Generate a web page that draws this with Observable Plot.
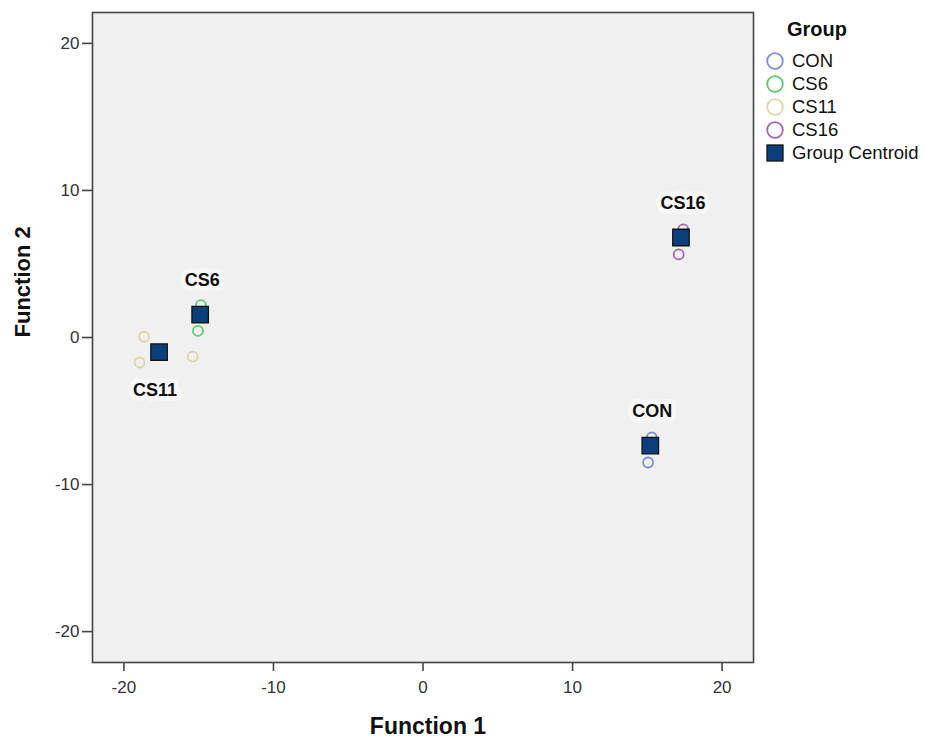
<!DOCTYPE html>
<html>
<head>
<meta charset="utf-8">
<script src="https://cdn.jsdelivr.net/npm/d3@7"></script>
<script src="https://cdn.jsdelivr.net/npm/@observablehq/plot@0.6"></script>
<style>
  body { margin: 0; background: #fff; font-family: "Liberation Sans", Arial, sans-serif; }
  #wrap { position: relative; width: 925px; height: 745px; }
  #legend { position: absolute; left: 765px; top: 17px; font-size: 18.5px; color: #111; }
  #legend .title { font-weight: bold; font-size: 20px; margin-left: 22px; margin-bottom: 9px; line-height: 24px; }
  #legend .item { display: flex; align-items: center; height: 22.8px; }
  #legend svg { margin-right: 5px; }
</style>
</head>
<body>
<div id="wrap">
  <div id="chart"></div>
  <div id="legend"></div>
</div>
<script>
// Discriminant function scores per case
const groups = ["CON", "CS6", "CS11", "CS16"];
const colors = ["#7d8ed6", "#5dcb6b", "#dcd6a6", "#a763b4"];

const caseGroup = ["CON", "CON", "CS6", "CS6", "CS11", "CS11", "CS11", "CS16", "CS16"];
const caseF1 = [15.3, 15.05, -14.85, -15.05, -18.65, -18.95, -15.4, 17.4, 17.1];
const caseF2 = [-6.8, -8.5, 2.2, 0.45, 0.05, -1.7, -1.3, 7.35, 5.65];

// Group centroids
const centroidGroup = ["CON", "CS6", "CS11", "CS16"];
const centroidF1 = [15.2, -14.9, -17.65, 17.25];
const centroidF2 = [-7.35, 1.55, -1.0, 6.8];

const xTicks = [-20, -10, 0, 10, 20];
const yTicks = [-20, -10, 0, 10, 20];

const cases = caseGroup.map((g, i) => ({group: g, f1: caseF1[i], f2: caseF2[i]}));
const centroids = centroidGroup.map((g, i) => ({group: g, f1: centroidF1[i], f2: centroidF2[i]}));
// Labels sit above each centroid, except CS11 which sits below
const labelsAbove = centroids.filter(d => d.group !== "CS11");
const labelsBelow = centroids.filter(d => d.group === "CS11");

const textStyle = {fontSize: 18, fontWeight: "bold", fill: "#111", stroke: "#f7f7f7", strokeWidth: 10, strokeLinejoin: "round"};

const chart = Plot.plot({
  width: 925,
  height: 745,
  marginLeft: 92,
  marginRight: 172,
  marginTop: 12,
  marginBottom: 83,
  style: {fontFamily: "'Liberation Sans', Arial, sans-serif", background: "transparent"},
  x: {domain: [-22.1, 22.1], ticks: xTicks},
  y: {domain: [-22.1, 22.1], ticks: yTicks},
  color: {domain: groups, range: colors},
  marks: [
    Plot.frame({fill: "#f0f0f0"}),
    Plot.frame({stroke: "#444", strokeWidth: 1.6}),
    Plot.axisX({ticks: xTicks, tickSize: 9, tickPadding: 9, fontSize: 17, color: "#333", stroke: "#444", strokeWidth: 1.6, label: null, tickFormat: d => String(d)}),
    Plot.axisY({ticks: yTicks, tickSize: 10, tickPadding: 3, fontSize: 17, color: "#333", stroke: "#444", strokeWidth: 1.6, label: null, tickFormat: d => String(d)}),
    Plot.text(["Function 1"], {frameAnchor: "bottom", dx: 5, dy: 71, fontSize: 23, fontWeight: "bold", fill: "#111"}),
    Plot.text(["Function 2"], {frameAnchor: "left", dx: -70, rotate: -90, fontSize: 22, fontWeight: "bold", fill: "#111"}),
    Plot.text(labelsAbove, {x: "f1", y: "f2", text: "group", dy: -34, dx: 2, ...textStyle}),
    Plot.text(labelsBelow, {x: "f1", y: "f2", text: "group", dy: 38, dx: -4, ...textStyle}),
    Plot.dot(cases, {x: "f1", y: "f2", stroke: "group", r: 5, strokeWidth: 1.8, fill: "none"}),
    Plot.dot(centroids, {x: "f1", y: "f2", symbol: "square", r: 9.3, fill: "#0b3f7c", stroke: "#111", strokeWidth: 1.3})
  ]
});
document.getElementById("chart").appendChild(chart);

// Legend
const legend = document.getElementById("legend");
legend.innerHTML = `<div class="title">Group</div>` +
  groups.map((g, i) => `<div class="item"><svg width="22" height="20"><circle cx="10" cy="10" r="7.8" fill="none" stroke="${colors[i]}" stroke-width="1.8"/></svg>${g}</div>`).join("") +
  `<div class="item"><svg width="22" height="20"><rect x="2" y="2" width="16" height="16" fill="#0b3f7c" stroke="#111" stroke-width="1.3"/></svg>Group Centroid</div>`;
</script>
</body>
</html>
